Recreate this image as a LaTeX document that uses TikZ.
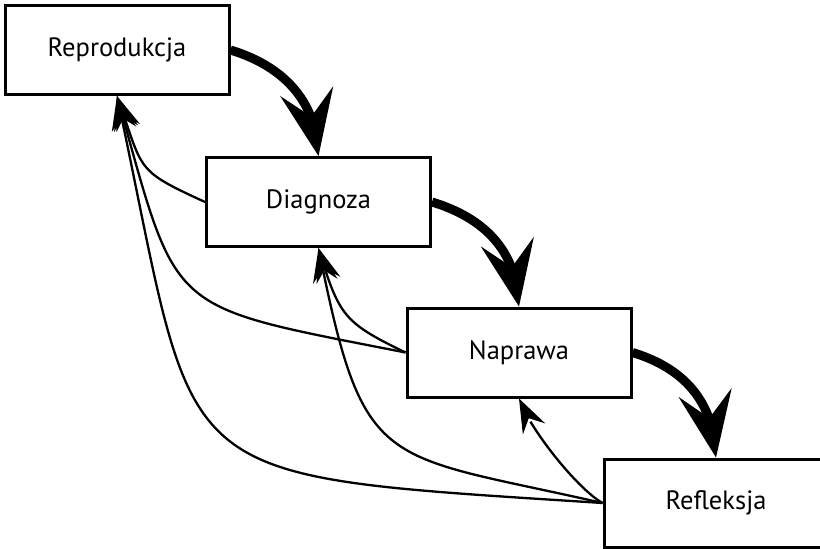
\documentclass[tikz,border=0pt]{standalone}
\usepackage{fontspec}
\setmainfont{PT Sans}
\usetikzlibrary{arrows.meta,bending}
\begin{document}
\begin{tikzpicture}[x=1pt,y=-1pt,
  box/.style={draw, line width=3pt, minimum width=224pt, minimum height=89pt, inner sep=0pt, font=\fontsize{26.5}{30}\selectfont},
  big/.style={line width=9pt, -{Stealth[length=66pt,width=54pt,inset=26pt,line width=0pt]}},
  fb/.style={line width=2.3pt, -{Stealth[length=34pt,width=25pt,inset=12pt,line width=0pt]}}]
\useasboundingbox (0,0) rectangle (820,549);
\fill[white] (0,0) rectangle (820,549);
\clip (0,0) rectangle (820,549);

\node[box] (R) at (117,50) {Reprodukcja};
\node[box] (D) at (318.5,202) {Diagnoza};
\node[box] (N) at (519,352.5) {Naprawa};
\node[box, minimum height=88pt] (F) at (716,503) {Refleksja};

\draw[big] (R.east) .. controls +(46,14) and +(-2,-61) .. (D.north);
\draw[big] (D.east) .. controls +(46,14) and +(-2,-61) .. (N.north);
\draw[big] (N.east) .. controls +(46,14) and +(-2,-61) .. (F.north);

\draw[fb] (D.west) .. controls (133,169) and (144,171) .. (R.south);
\draw[fb] (N.west) .. controls (162,304.5) and (179,317) .. (R.south);
\draw[fb] (N.west) .. controls (344,322.6) and (339,316.5) .. (D.south);
\draw[fb] (F.west) .. controls (154,474) and (201,488) .. (R.south);
\draw[fb] (F.west) .. controls (379,452) and (364,475) .. (D.south);
\draw[fb] (F.west) .. controls (577,488.6) and (528.7,427.6) .. (N.south);
\end{tikzpicture}
\end{document}
